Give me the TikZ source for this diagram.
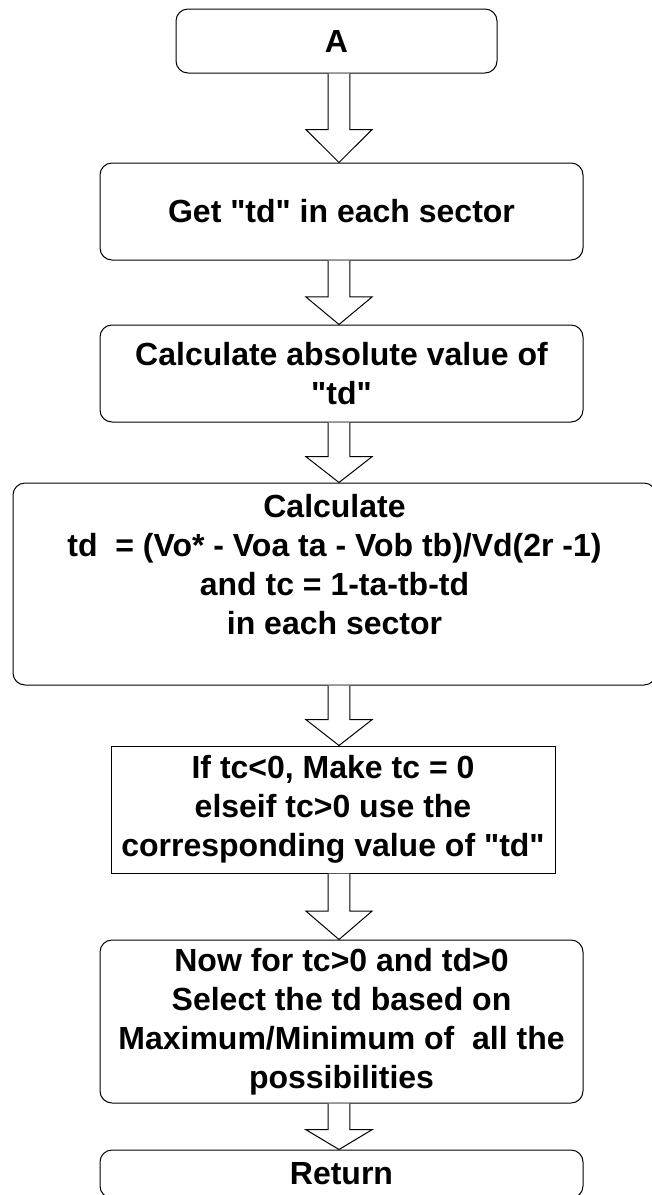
\documentclass[tikz,border=0pt]{standalone}
\usepackage{fontspec}
\setmainfont{Liberation Sans}[Ligatures=TeXOff]
\usetikzlibrary{positioning,calc}

\tikzset{
  flowbox/.style={draw, rounded corners=6pt, line width=0.5pt, inner sep=0pt,
    align=center, font=\fontsize{16}{19.5}\selectfont\bfseries},
  plainbox/.style={flowbox, rounded corners=0pt},
  blockarrow/.style={draw, fill=white, line width=0.5pt, line join=miter}
}

% hollow down arrow from #2 to #3, #1 = where the head starts
\newcommand{\hollowarrow}[3][0.57]{%
  \path (#2.south -| spine) coordinate (ta)
        (#3.north -| spine) coordinate (tb)
        ($(ta)!#1!(tb)$) coordinate (tm);
  \draw[blockarrow] ($(ta)+(-5.4pt,0)$) -- ($(tm)+(-5.4pt,0)$) -- ($(tm)+(-16.5pt,0)$)
    -- (tb) -- ($(tm)+(16.5pt,0)$) -- ($(tm)+(5.4pt,0)$) -- ($(ta)+(5.4pt,0)$);
}

\begin{document}
\begin{tikzpicture}[on grid]
  \useasboundingbox (0,0) rectangle (326pt,-597.5pt);
  \coordinate (spine) at (169.5pt,0);

  \node[flowbox, minimum width=160.5pt, minimum height=32pt] (start) at (168.25pt,-20.5pt) {A};
  \node[flowbox, minimum width=241.5pt, minimum height=48.5pt,
        below=85.25pt of start, xshift=2.5pt] (gettd) {Get "td" in each sector};
  \node[flowbox, minimum width=241.5pt, minimum height=48.5pt,
        below=81pt of gettd] (abstd) {Calculate absolute value of\\ "td"};
  \node[flowbox, minimum width=321.5pt, minimum height=101pt,
        below=105.25pt of abstd, xshift=-3.5pt] (calc)
        {Calculate\\ td~ = (Vo* - Voa ta - Vob tb)/Vd(2r -1)\\ and tc = 1-ta-tb-td\\ in each sector\\ \mbox{}};
  \node[plainbox, minimum width=222pt, minimum height=63.5pt,
        below=112.75pt of calc, xshift=-0.75pt] (check)
        {If tc<0, Make tc = 0\\ elseif tc>0 use the\\ corresponding value of "td"};
  \node[flowbox, minimum width=241.5pt, minimum height=81.5pt,
        below=106pt of check, xshift=4.25pt] (select)
        {Now for tc>0 and td>0\\ Select the td based on\\ Maximum/Minimum of~ all the\\ possibilities};
  \node[flowbox, minimum width=241.5pt, minimum height=24pt,
        below=76.25pt of select] (return) {Return};

  \hollowarrow[0.63]{start}{gettd}
  \hollowarrow{gettd}{abstd}
  \hollowarrow{abstd}{calc}
  \hollowarrow{calc}{check}
  \hollowarrow{check}{select}
  \hollowarrow{select}{return}
\end{tikzpicture}
\end{document}
